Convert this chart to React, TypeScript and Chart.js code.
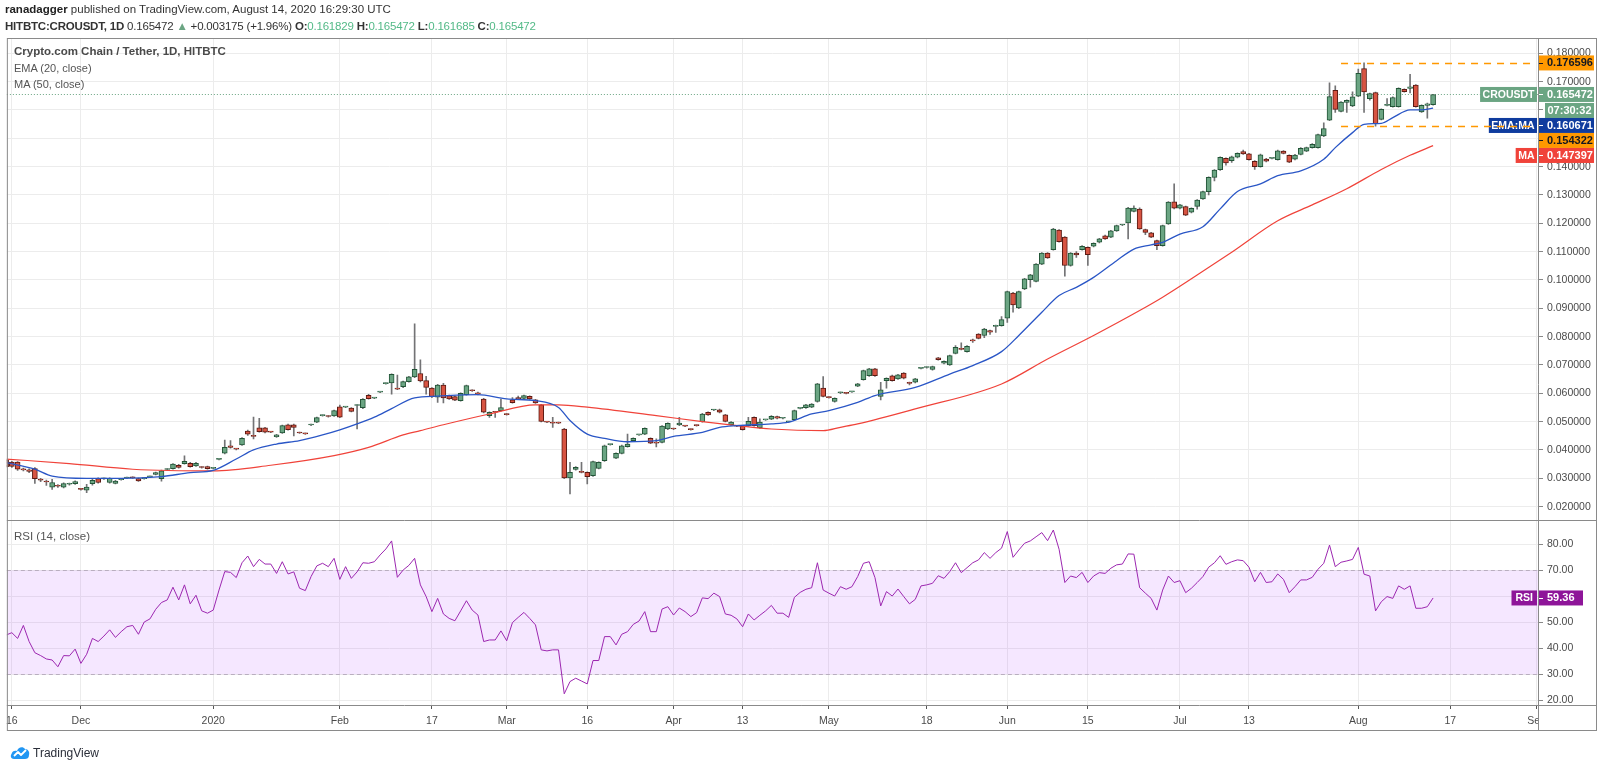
import React, { useEffect, useRef } from "react";
import { Chart, registerables } from "chart.js";

Chart.register(...registerables);

// ---------------- data ----------------
// daily candles [open, high, low, close], bar index 0 = first visible bar (Nov 16 2019)
const ohlc: number[][] = [
  [.0365,.0368,.0338,.0341],[.0357,.0360,.0338,.0342],[.0357,.0359,.0328,.0332],[.0332,.0336,.0326,.0330],[.0330,.0333,.0320,.0324],
  [.0334,.0338,.0282,.0299],[.0297,.0300,.0288,.0293],[.0290,.0294,.0275,.0287],[.0269,.0296,.0261,.0285],[.0274,.0278,.0268,.0272],
  [.0269,.0284,.0266,.0281],[.0279,.0283,.0276,.0280],[.0281,.0291,.0278,.0288],[.0262,.0265,.0258,.0261],[.0258,.0279,.0249,.0269],
  [.0281,.0296,.0276,.0293],[.0299,.0302,.0283,.0285],[.0298,.0301,.0296,.0299],[.0285,.0302,.0283,.0300],[.0282,.0293,.0280,.0290],
  [.0295,.0298,.0293,.0296],[.0301,.0304,.0299,.0302],[.0303,.0305,.0300,.0302],[.0299,.0301,.0289,.0291],[.0299,.0302,.0297,.0300],
  [.0305,.0308,.0303,.0306],[.0314,.0322,.0312,.0320],[.0299,.0329,.0290,.0326],[.0331,.0334,.0329,.0332],[.0334,.0352,.0332,.0350],
  [.0346,.0349,.0336,.0338],[.0352,.0379,.0350,.0360],[.0353,.0356,.0339,.0341],[.0344,.0356,.0342,.0353],[.0339,.0341,.0336,.0338],
  [.0341,.0343,.0332,.0334],[.0335,.0338,.0333,.0336],[.0367,.0370,.0365,.0368],[.0389,.0435,.0386,.0409],[.0415,.0433,.0406,.0409],
  [.0404,.0406,.0400,.0403],[.0418,.0444,.0416,.0441],[.0467,.0470,.0451,.0456],[.0449,.0516,.0439,.0448],[.0478,.0512,.0463,.0465],
  [.0478,.0480,.0460,.0463],[.0464,.0466,.0461,.0463],[.0447,.0455,.0444,.0453],[.0460,.0488,.0458,.0486],[.0489,.0491,.0470,.0472],
  [.0489,.0491,.0450,.0480],[.0461,.0463,.0458,.0460],[.0458,.0460,.0455,.0457],[.0488,.0491,.0486,.0489],[.0498,.0516,.0496,.0514],
  [.0521,.0524,.0519,.0522],[.0519,.0521,.0516,.0518],[.0520,.0541,.0518,.0539],[.0552,.0558,.0514,.0516],[.0551,.0554,.0549,.0552],
  [.0548,.0550,.0534,.0536],[.0557,.0560,.0474,.0558],[.0549,.0581,.0546,.0579],[.0593,.0596,.0579,.0581],[.0583,.0586,.0581,.0584],
  [.0604,.0607,.0602,.0605],[.0634,.0637,.0632,.0635],[.0637,.0669,.0597,.0667],[.0617,.0664,.0613,.0615],[.0623,.0643,.0620,.0641],
  [.0641,.0660,.0639,.0658],[.0658,.0845,.0655,.0685],[.0670,.0718,.0640,.0644],[.0645,.0660,.0597,.0621],[.0618,.0620,.0585,.0588],
  [.0586,.0632,.0568,.0629],[.0629,.0635,.0566,.0584],[.0592,.0594,.0578,.0580],[.0588,.0590,.0574,.0576],[.0574,.0602,.0572,.0600],
  [.0595,.0629,.0593,.0627],[.0610,.0612,.0607,.0609],[.0599,.0604,.0594,.0598],[.0580,.0582,.0531,.0533],[.0521,.0535,.0515,.0533],
  [.0534,.0536,.0515,.0533],[.0539,.0580,.0537,.0550],[.0526,.0528,.0523,.0525],[.0577,.0585,.0565,.0567],[.0585,.0590,.0578,.0580],
  [.0582,.0594,.0580,.0592],[.0589,.0591,.0578,.0580],[.0577,.0579,.0564,.0566],[.0559,.0561,.0499,.0501],[.0499,.0501,.0496,.0498],
  [.0496,.0515,.0480,.0495],[.0496,.0498,.0493,.0495],[.0474,.0476,.0299,.0301],[.0301,.0356,.0245,.0321],[.0331,.0341,.0329,.0339],
  [.0322,.0356,.0319,.0321],[.0321,.0323,.0280,.0306],[.0309,.0361,.0307,.0359],[.0335,.0358,.0333,.0356],[.0362,.0417,.0360,.0415],
  [.0419,.0421,.0417,.0419],[.0371,.0390,.0369,.0388],[.0388,.0417,.0386,.0415],[.0412,.0456,.0410,.0421],[.0433,.0443,.0431,.0441],
  [.0453,.0455,.0451,.0453],[.0456,.0478,.0454,.0476],[.0441,.0443,.0422,.0424],[.0425,.0439,.0411,.0424],[.0427,.0486,.0425,.0484],
  [.0474,.0496,.0472,.0494],[.0475,.0477,.0472,.0474],[.0488,.0515,.0486,.0495],[.0485,.0487,.0482,.0484],[.0473,.0475,.0470,.0472],
  [.0487,.0489,.0484,.0486],[.0500,.0529,.0498,.0527],[.0533,.0535,.0522,.0524],[.0541,.0543,.0539,.0541],[.0542,.0544,.0531,.0533],
  [.0524,.0526,.0499,.0501],[.0489,.0500,.0487,.0498],[.0485,.0487,.0482,.0484],[.0484,.0486,.0470,.0472],[.0486,.0515,.0484,.0501],
  [.0515,.0517,.0484,.0486],[.0478,.0510,.0476,.0498],[.0506,.0508,.0504,.0506],[.0509,.0521,.0507,.0519],[.0518,.0520,.0510,.0512],
  [.0512,.0514,.0510,.0512],[.0499,.0501,.0497,.0499],[.0507,.0541,.0505,.0539],[.0547,.0549,.0545,.0547],[.0549,.0561,.0547,.0559],
  [.0551,.0564,.0549,.0562],[.0571,.0635,.0569,.0633],[.0618,.0659,.0587,.0589],[.0586,.0588,.0583,.0585],[.0571,.0584,.0569,.0582],
  [.0602,.0604,.0599,.0602],[.0601,.0603,.0598,.0600],[.0605,.0607,.0603,.0605],[.0625,.0635,.0623,.0633],[.0648,.0682,.0646,.0680],
  [.0662,.0688,.0660,.0686],[.0686,.0688,.0660,.0662],[.0589,.0639,.0577,.0612],[.0645,.0655,.0618,.0653],[.0662,.0664,.0643,.0645],
  [.0651,.0667,.0649,.0665],[.0671,.0673,.0651,.0653],[.0636,.0640,.0630,.0635],[.0639,.0653,.0637,.0651],[.0688,.0690,.0686,.0688],
  [.0691,.0693,.0689,.0691],[.0684,.0696,.0682,.0694],[.0725,.0727,.0717,.0719],[.0706,.0715,.0704,.0713],[.0700,.0735,.0698,.0733],
  [.0741,.0768,.0739,.0762],[.0758,.0778,.0753,.0755],[.0747,.0768,.0745,.0766],[.0789,.0791,.0780,.0785],[.0809,.0811,.0792,.0794],
  [.0804,.0829,.0796,.0827],[.0821,.0823,.0808,.0816],[.0836,.0841,.0815,.0836],[.0839,.0871,.0837,.0860],[.0865,.0961,.0850,.0959],
  [.0954,.0956,.0886,.0912],[.0901,.0961,.0899,.0959],[.0968,.1006,.0966,.1004],[.1001,.1020,.0975,.1018],[.0995,.1058,.0993,.1056],
  [.1056,.1097,.1054,.1095],[.1095,.1097,.1076,.1078],[.1107,.1182,.1105,.1180],[.1176,.1178,.1133,.1135],[.1151,.1153,.1013,.1051],
  [.1051,.1097,.1049,.1095],[.1095,.1100,.1080,.1088],[.1107,.1121,.1105,.1119],[.1115,.1117,.1051,.1089],[.1119,.1131,.1117,.1129],
  [.1133,.1147,.1131,.1145],[.1156,.1158,.1143,.1145],[.1151,.1175,.1149,.1173],[.1173,.1194,.1171,.1192],[.1194,.1196,.1192,.1194],
  [.1201,.1256,.1145,.1254],[.1242,.1262,.1240,.1254],[.1250,.1255,.1178,.1180],[.1178,.1180,.1160,.1168],[.1166,.1168,.1149,.1151],
  [.1139,.1141,.1107,.1121],[.1121,.1194,.1119,.1192],[.1198,.1277,.1196,.1275],[.1276,.1339,.1251,.1253],[.1253,.1267,.1251,.1265],
  [.1259,.1261,.1227,.1229],[.1239,.1255,.1237,.1253],[.1260,.1284,.1250,.1282],[.1286,.1314,.1284,.1312],[.1312,.1364,.1300,.1362],
  [.1362,.1390,.1350,.1388],[.1389,.1435,.1387,.1433],[.1429,.1431,.1405,.1413],[.1421,.1437,.1415,.1435],[.1433,.1449,.1431,.1447],
  [.1453,.1458,.1443,.1445],[.1445,.1447,.1423,.1425],[.1419,.1421,.1390,.1400],[.1400,.1444,.1398,.1442],[.1427,.1429,.1417,.1419],
  [.1429,.1431,.1427,.1429],[.1425,.1458,.1423,.1456],[.1455,.1457,.1445,.1447],[.1440,.1442,.1414,.1416],[.1426,.1443,.1424,.1441],
  [.1443,.1467,.1441,.1465],[.1455,.1469,.1453,.1467],[.1467,.1481,.1465,.1479],[.1467,.1515,.1465,.1513],[.1508,.1555,.1506,.1534],
  [.1564,.1696,.1562,.1647],[.1669,.1685,.1591,.1602],[.1595,.1630,.1593,.1628],[.1627,.1636,.1591,.1634],[.1614,.1664,.1612,.1646],
  [.1649,.1744,.1647,.1729],[.1746,.176596,.1591,.1664],[.1640,.1660,.1635,.1658],[.1661,.1663,.154322,.1552],[.1567,.1604,.1565,.1602],
  [.1616,.1640,.1614,.1616],[.1612,.1646,.1610,.1644],[.1612,.1678,.1610,.1676],[.1673,.1675,.1663,.1665],[.1676,.1726,.1660,.1682],
  [.1688,.1690,.1610,.1612],[.1593,.1618,.1591,.1616],[.1616,.1624,.1571,.1622],[.161829,.165472,.161685,.165472],
];

// EMA (20, close) read as [bar index, value]
const ema20: number[][] = [
  [0,.0355],[5,.0332],[8,.0308],[14,.0300],[20,.0300],[27,.0306],[32,.0320],[36,.0328],[40,.0368],[43,.0400],
  [47,.0421],[51,.0433],[55,.0453],[58,.0471],[61,.0492],[64,.0516],[67,.0546],[71,.0584],[75,.0590],[82,.0595],
  [87,.0580],[92,.0574],[96,.0550],[98,.0504],[101,.0456],[104,.0441],[108,.0429],[113,.0433],[116,.0448],[121,.0462],
  [124,.0480],[127,.0486],[133,.0492],[136,.0498],[140,.0527],[143,.0539],[148,.0568],[151,.0592],[158,.0621],[164,.0668],
  [168,.0698],[173,.0747],[176,.0804],[180,.0886],[183,.0945],[186,.0974],[189,.1009],[193,.1068],[196,.1109],[199,.1124],
  [201,.1133],[204,.1162],[208,.1188],[211,.1251],[214,.1312],[218,.1339],[221,.1368],[225,.1385],[229,.1426],[231,.1467],
  [234,.1520],[236,.1549],[239,.1553],[241,.1573],[244,.1600],[246,.1600],[248,.160671],
];

// MA (50, close) read as [bar index, value]
const ma50: number[][] = [
  [0,.0368],[11,.0352],[22,.0332],[36,.0326],[46,.0346],[57,.0380],[63,.0409],[69,.0453],[72,.0468],[76,.0489],
  [84,.0527],[92,.0559],[96,.0559],[101,.0551],[113,.0521],[121,.0500],[127,.0486],[133,.0474],[142,.0468],[145,.0480],
  [148,.0492],[158,.0545],[173,.0633],[181,.0721],[189,.0804],[197,.0892],[201,.0939],[206,.1004],[213,.1098],[221,.1209],
  [227,.1265],[233,.1322],[239,.1390],[244,.1440],[248,.147397],
];

// RSI (14, close), one value per bar
const rsi14: number[] = [
  45.1,46.0,43.8,48.8,42.6,38.3,37.2,35.9,35.5,32.9, 37.2,37.1,39.7,34.2,37.7,43.8,42.6,44.7,47.1,44.2,
  46.4,48.3,48.8,45.4,50.1,51.3,55.0,57.6,58.6,63.5, 58.6,64.4,57.1,60.4,54.4,53.5,54.7,62.4,69.5,69.2,
  67.2,72.9,75.5,71.4,74.2,72.4,72.4,68.8,73.3,68.6, 69.4,63.1,62.2,67.6,71.7,72.7,71.4,74.6,66.5,71.4,
  66.9,69.4,72.9,72.7,73.3,75.9,78.2,81.3,67.3,70.1, 71.9,74.6,64.4,59.9,54.1,59.2,53.2,51.5,50.6,54.4,
  58.3,54.7,52.8,
  42.6,43.2,43.2,46.7,42.9,49.9,51.9,53.8,51.5,49.0, 39.4,39.0,39.4,39.4,22.5,27.2,28.5,27.4,26.3,35.3,
  35.3,44.5,44.5,41.3,45.4,46.4,49.2,50.5,54.1,46.4, 46.4,55.1,56.0,52.8,55.5,54.1,52.2,53.7,59.4,59.1,
  61.2,59.9,53.2,52.7,51.3,48.3,53.2,50.9,52.7,54.4, 56.5,53.5,53.5,51.9,59.6,61.5,62.7,63.3,72.9,62.4,
  61.2,60.1,63.7,62.7,63.7,67.6,72.7,73.3,67.2,56.3, 61.8,60.1,62.8,59.9,57.1,58.8,64.0,64.4,65.0,67.9,
  66.9,69.5,72.9,
  69.1,71.0,72.9,74.0,76.8,74.6,76.8,78.5,84.9,75.0, 77.8,80.4,81.3,82.9,84.5,81.4,85.5,78.1,65.3,67.8,
  67.2,69.2,65.3,67.8,69.1,68.8,70.8,72.1,72.4,76.3, 76.2,63.3,61.2,59.2,54.7,62.4,67.8,65.3,66.0,61.4,
  63.1,65.3,67.6,71.2,72.9,75.6,72.3,73.3,74.0,73.7, 71.2,65.6,69.2,65.3,65.6,68.6,66.5,61.4,63.7,66.3,
  66.3,67.3,70.4,72.7,79.7,71.4,73.1,73.6,74.2,78.8, 68.5,67.8,54.4,57.9,59.9,59.2,64.0,62.7,64.0,55.4,
  55.4,56.0,59.36,
];

// time-axis ticks [bar index, label]
const timeTicks: [number, string][] = [
  [1,"16"],[13,"Dec"],[36,"2020"],[58,"Feb"],[74,"17"],[87,"Mar"],[101,"16"],[116,"Apr"],[128,"13"],
  [143,"May"],[160,"18"],[174,"Jun"],[188,"15"],[204,"Jul"],[216,"13"],[235,"Aug"],[251,"17"],[266,"Sep"],
];
const priceTicks: number[] = [0.02,0.03,0.04,0.05,0.06,0.07,0.08,0.09,0.10,0.11,0.12,0.13,0.14,0.15,0.16,0.17,0.18];
const rsiTicks: number[] = [20,30,40,50,60,70,80];

const lastClose = 0.165472;
const emaLast = 0.160671;
const maLast = 0.147397;
const rsiLast = 59.36;
const resistance = 0.176596;
const support = 0.154322;
const levelStartBar = 232;
const countdown = "07:30:32";
const symbol = "CROUSDT";

// ---------------- styling ----------------
const FONT = '"Liberation Sans", Arial, sans-serif';
const UP = "#6ba583";
const DOWN = "#d75442";
const UP_BORDER = "#225437";
const DOWN_BORDER = "#5b1a13";
const WICK = "#737375";
const EMA_C = "#2a56c6";
const EMA_BOX = "#0f3c9e";
const MA_C = "#f0433a";
const RSI_C = "#9c27b0";
const RSI_BOX = "#8e1599";
const ORANGE = "#ff9800";
const GRID = "#ececec";
const FRAME = "#8a8a8a";
const AXIS_TEXT = "#4a4a4a";

const panePlugin = {
  id: "panes",
  beforeDatasetsDraw(chart: any) {
    const { ctx, chartArea: a, scales } = chart;
    const r = scales.rsi;
    ctx.save();
    const y70 = r.getPixelForValue(70);
    const y30 = r.getPixelForValue(30);
    ctx.fillStyle = "rgba(153,21,255,0.1)";
    ctx.fillRect(a.left, y70, a.right - a.left, y30 - y70);
    ctx.strokeStyle = "#b9aebf";
    ctx.lineWidth = 1;
    ctx.setLineDash([4, 3]);
    for (const y of [y70, y30]) {
      const yy = Math.round(y) + 0.5;
      ctx.beginPath();
      ctx.moveTo(a.left, yy);
      ctx.lineTo(a.right, yy);
      ctx.stroke();
    }
    const yl = Math.round(scales.y.getPixelForValue(lastClose)) + 0.5;
    ctx.strokeStyle = UP;
    ctx.setLineDash([1, 2]);
    ctx.beginPath();
    ctx.moveTo(a.left, yl);
    ctx.lineTo(a.right, yl);
    ctx.stroke();
    ctx.restore();
  },
  afterDraw(chart: any) {
    const { ctx, chartArea: a, scales } = chart;
    const ys = scales.y;
    const rs = scales.rsi;
    const xs = scales.x;
    const frameRight = ys.right;
    const frameBottom = xs.bottom;
    ctx.save();
    // hide the part of the time labels that runs under the price scale
    ctx.fillStyle = "#fff";
    ctx.fillRect(a.right + 1, a.bottom + 1, frameRight - a.right, frameBottom - a.bottom - 1);

    // frame and pane borders
    ctx.setLineDash([]);
    ctx.lineWidth = 1;
    ctx.strokeStyle = FRAME;
    ctx.strokeRect(a.left + 0.5, a.top + 0.5, frameRight - a.left - 1, frameBottom - a.top - 1);
    const line = (x1: number, y1: number, x2: number, y2: number) => {
      ctx.beginPath();
      ctx.moveTo(x1, y1);
      ctx.lineTo(x2, y2);
      ctx.stroke();
    };
    line(a.right + 0.5, a.top, a.right + 0.5, frameBottom);
    line(a.left, Math.round(ys.bottom) + 0.5, frameRight, Math.round(ys.bottom) + 0.5);
    line(a.left, a.bottom + 0.5, frameRight, a.bottom + 0.5);

    // right-hand price labels
    const H = 15;
    const vx = a.right + 1;
    const vw = frameRight - a.right - 4;
    ctx.textBaseline = "middle";
    const valueBox = (yc: number, bg: string, fg: string, text: string) => {
      ctx.fillStyle = bg;
      ctx.fillRect(vx, yc - H / 2, vw, H);
      ctx.strokeStyle = fg;
      ctx.beginPath();
      ctx.moveTo(vx, Math.round(yc) + 0.5);
      ctx.lineTo(vx + 4, Math.round(yc) + 0.5);
      ctx.stroke();
      ctx.font = `bold 11px ${FONT}`;
      ctx.fillStyle = fg;
      ctx.textAlign = "left";
      ctx.fillText(text, a.right + 9, yc + 0.5);
    };
    const nameBox = (yc: number, bg: string, text: string) => {
      ctx.font = `bold 10.5px ${FONT}`;
      const w = ctx.measureText(text).width + 5;
      ctx.fillStyle = bg;
      ctx.fillRect(a.right - 1 - w, yc - H / 2, w, H);
      ctx.fillStyle = "#fff";
      ctx.textAlign = "center";
      ctx.fillText(text, a.right - 1 - w / 2, yc + 0.5);
    };

    type Lbl = { v: number; h: number; draw: (yc: number) => void };
    const labels: Lbl[] = [
      { v: resistance, h: H, draw: (yc) => valueBox(yc, ORANGE, "#131722", resistance.toFixed(6)) },
      {
        v: lastClose, h: 2 * H + 1, draw: (yc) => {
          nameBox(yc, UP, symbol);
          valueBox(yc, UP, "#fff", lastClose.toFixed(6));
          const cy = yc + H + 1;
          ctx.fillStyle = UP;
          ctx.fillRect(a.right + 7, cy - H / 2, frameRight - a.right - 10, H);
          ctx.fillStyle = "#fff";
          ctx.textAlign = "center";
          ctx.fillText(countdown, a.right + 7 + (frameRight - a.right - 10) / 2, cy + 0.5);
        },
      },
      { v: emaLast, h: H, draw: (yc) => { nameBox(yc, EMA_BOX, "EMA:MA"); valueBox(yc, EMA_BOX, "#fff", emaLast.toFixed(6)); } },
      { v: support, h: H, draw: (yc) => valueBox(yc, ORANGE, "#131722", support.toFixed(6)) },
      { v: maLast, h: H, draw: (yc) => { nameBox(yc, MA_C, "MA"); valueBox(yc, MA_C, "#fff", maLast.toFixed(6)); } },
    ];
    const placed = labels
      .map((l) => ({ ...l, y: ys.getPixelForValue(l.v) }))
      .sort((p, q) => p.y - q.y);
    let bottom = -Infinity;
    for (const p of placed) {
      const top = Math.max(p.y - H / 2, bottom);
      p.draw(top + H / 2);
      bottom = top + p.h;
    }

    // horizontal levels (drawn over the labels, as in the reference)
    ctx.strokeStyle = ORANGE;
    ctx.lineWidth = 1.5;
    ctx.setLineDash([7, 6]);
    const x0 = xs.getPixelForValue(levelStartBar);
    for (const v of [resistance, support]) {
      const y = Math.round(ys.getPixelForValue(v)) + 0.5;
      line(x0, y, a.right - 2, y);
    }
    ctx.setLineDash([]);
    ctx.lineWidth = 1;

    // RSI label
    const ry = rs.getPixelForValue(rsiLast);
    ctx.font = `bold 10.5px ${FONT}`;
    const rw = ctx.measureText("RSI").width + 8;
    ctx.fillStyle = RSI_BOX;
    ctx.fillRect(a.right - 1 - rw, ry - H / 2, rw, H);
    ctx.fillRect(vx, ry - H / 2, 44, H);
    ctx.fillStyle = "#fff";
    ctx.textAlign = "center";
    ctx.fillText("RSI", a.right - 1 - rw / 2, ry + 0.5);
    ctx.font = `bold 11px ${FONT}`;
    ctx.textAlign = "left";
    ctx.fillText(rsiLast.toFixed(2), a.right + 9, ry + 0.5);
    ctx.strokeStyle = "#fff";
    line(vx, Math.round(ry) + 0.5, vx + 4, Math.round(ry) + 0.5);
    ctx.restore();
  },
};

export default function App() {
  const ref = useRef<HTMLCanvasElement>(null);

  useEffect(() => {
    document.body.style.margin = "0";
    const canvas = ref.current;
    if (!canvas) return;
    const isUp = (c: number[]) => c[3] >= c[0];
    const tickFont = { family: FONT, size: 10.5 };

    const chart = new Chart(canvas, {
      type: "bar",
      data: {
        datasets: [
          {
            type: "line",
            label: "EMA",
            data: ema20.map(([i, v]) => ({ x: i, y: v })),
            borderColor: EMA_C,
            borderWidth: 1.3,
            pointRadius: 0,
            cubicInterpolationMode: "monotone",
            yAxisID: "y",
            order: 0,
          },
          {
            type: "line",
            label: "MA",
            data: ma50.map(([i, v]) => ({ x: i, y: v })),
            borderColor: MA_C,
            borderWidth: 1.2,
            pointRadius: 0,
            cubicInterpolationMode: "monotone",
            yAxisID: "y",
            order: 0,
          },
          {
            type: "bar",
            label: "body",
            data: ohlc.map((c, i) => ({ x: i, y: [c[0], c[3]] })),
            backgroundColor: ohlc.map((c) => (isUp(c) ? UP : DOWN)),
            borderColor: ohlc.map((c) => (isUp(c) ? UP_BORDER : DOWN_BORDER)),
            borderWidth: 1,
            borderSkipped: false,
            barThickness: 5,
            minBarLength: 1,
            grouped: false,
            yAxisID: "y",
            order: 1,
          },
          {
            type: "bar",
            label: "wick",
            data: ohlc.map((c, i) => ({ x: i, y: [c[2], c[1]] })),
            backgroundColor: WICK,
            borderWidth: 0,
            barThickness: 1,
            grouped: false,
            yAxisID: "y",
            order: 2,
          },
          {
            type: "line",
            label: "RSI",
            data: rsi14.map((v, i) => ({ x: i, y: v })),
            borderColor: RSI_C,
            borderWidth: 1,
            pointRadius: 0,
            tension: 0,
            yAxisID: "rsi",
            order: 0,
          },
        ],
      },
      options: {
        animation: false,
        responsive: false,
        events: [],
        layout: { padding: { left: 5, top: 38, right: 3, bottom: 32 } },
        plugins: { legend: { display: false }, tooltip: { enabled: false } },
        scales: {
          x: {
            type: "linear",
            position: "bottom",
            offset: false,
            min: (5 - 4.24) / 5.761,
            max: (1538 - 4.24) / 5.761,
            afterFit: (s: any) => { s.height = 26; },
            afterBuildTicks: (s: any) => { s.ticks = timeTicks.map(([v]) => ({ value: v })); },
            ticks: {
              autoSkip: false,
              maxRotation: 0,
              padding: 6,
              color: AXIS_TEXT,
              font: tickFont,
              callback: (_v: any, idx: number) => timeTicks[idx] ? timeTicks[idx][1] : "",
            },
            grid: { color: GRID, offset: false, tickLength: 4, tickColor: "#555" },
            border: { display: false },
          },
          y: {
            type: "linear",
            position: "right",
            stack: "panes",
            stackWeight: 482,
            beginAtZero: false,
            min: 0.18 - (520 - 53.3) / 2833.3,
            max: 0.18 + (53.3 - 38) / 2833.3,
            afterFit: (s: any) => { s.width = 59; },
            afterBuildTicks: (s: any) => { s.ticks = priceTicks.map((v) => ({ value: v })); },
            ticks: {
              autoSkip: false,
              padding: 4,
              color: AXIS_TEXT,
              font: tickFont,
              callback: (v: any) => Number(v).toFixed(6),
            },
            grid: { color: GRID, tickLength: 5, tickColor: "#888" },
            border: { display: false },
          },
          rsi: {
            type: "linear",
            position: "right",
            stack: "panes",
            stackWeight: 185,
            min: 70 - (705 - 570.3) / 2.6,
            max: 70 + (570.3 - 520) / 2.6,
            afterFit: (s: any) => { s.width = 59; },
            afterBuildTicks: (s: any) => { s.ticks = rsiTicks.map((v) => ({ value: v })); },
            ticks: {
              autoSkip: false,
              padding: 4,
              color: AXIS_TEXT,
              font: tickFont,
              callback: (v: any) => Number(v).toFixed(2),
            },
            grid: { color: GRID, tickLength: 5, tickColor: "#888" },
            border: { display: false },
          },
        },
      } as any,
      plugins: [panePlugin],
    } as any);
    return () => chart.destroy();
  }, []);

  const teal = { color: "#53b987" };
  return (
    <div style={{ position: "relative", width: 1600, height: 763, overflow: "hidden", background: "#fff", fontFamily: FONT }}>
      <canvas ref={ref} width={1600} height={763} style={{ position: "absolute", left: 0, top: 0, display: "block" }} />
      <div style={{ position: "absolute", left: 5, top: 1, fontSize: 11.5, lineHeight: "17px", color: "#333", whiteSpace: "nowrap" }}>
        <div><b style={{ color: "#222" }}>ranadagger</b> published on TradingView.com, August 14, 2020 16:29:30 UTC</div>
        <div style={{ letterSpacing: "-0.2px" }}>
          <b>HITBTC:CROUSDT, 1D</b> 0.165472 <span style={{ color: UP }}>▲</span> +0.003175 (+1.96%){" "}
          <b>O:</b><span style={teal}>0.161829</span> <b>H:</b><span style={teal}>0.165472</span>{" "}
          <b>L:</b><span style={teal}>0.161685</span> <b>C:</b><span style={teal}>0.165472</span>
        </div>
      </div>
      <div style={{ position: "absolute", left: 14, top: 43, fontSize: 11, lineHeight: "16.5px", color: "#555", whiteSpace: "nowrap" }}>
        <div style={{ fontWeight: "bold", fontSize: 11.5, color: "#4a4a4a" }}>Crypto.com Chain / Tether, 1D, HITBTC</div>
        <div>EMA (20, close)</div>
        <div>MA (50, close)</div>
      </div>
      <div style={{ position: "absolute", left: 14, top: 528, fontSize: 11.5, lineHeight: "16px", color: "#555", whiteSpace: "nowrap" }}>
        RSI (14, close)
      </div>
      <div style={{ position: "absolute", left: 10, top: 746, display: "flex", alignItems: "center", gap: 3, fontSize: 12, lineHeight: "14px", color: "#2a2e39" }}>
        <svg width="20" height="14" viewBox="0 0 20 14">
          <path d="M4 13 C1 13 0 10 1.5 8 C2 5 5 4 7 5 C8 1 13 0 15 3 C18 3 20 6 19 9 C19 12 17 13 15 13 Z" fill="#2196f3" />
          <polyline points="4,10 8,6 11,9 16,4" fill="none" stroke="#fff" strokeWidth="1.8" strokeLinejoin="round" />
        </svg>
        <span>TradingView</span>
      </div>
    </div>
  );
}
